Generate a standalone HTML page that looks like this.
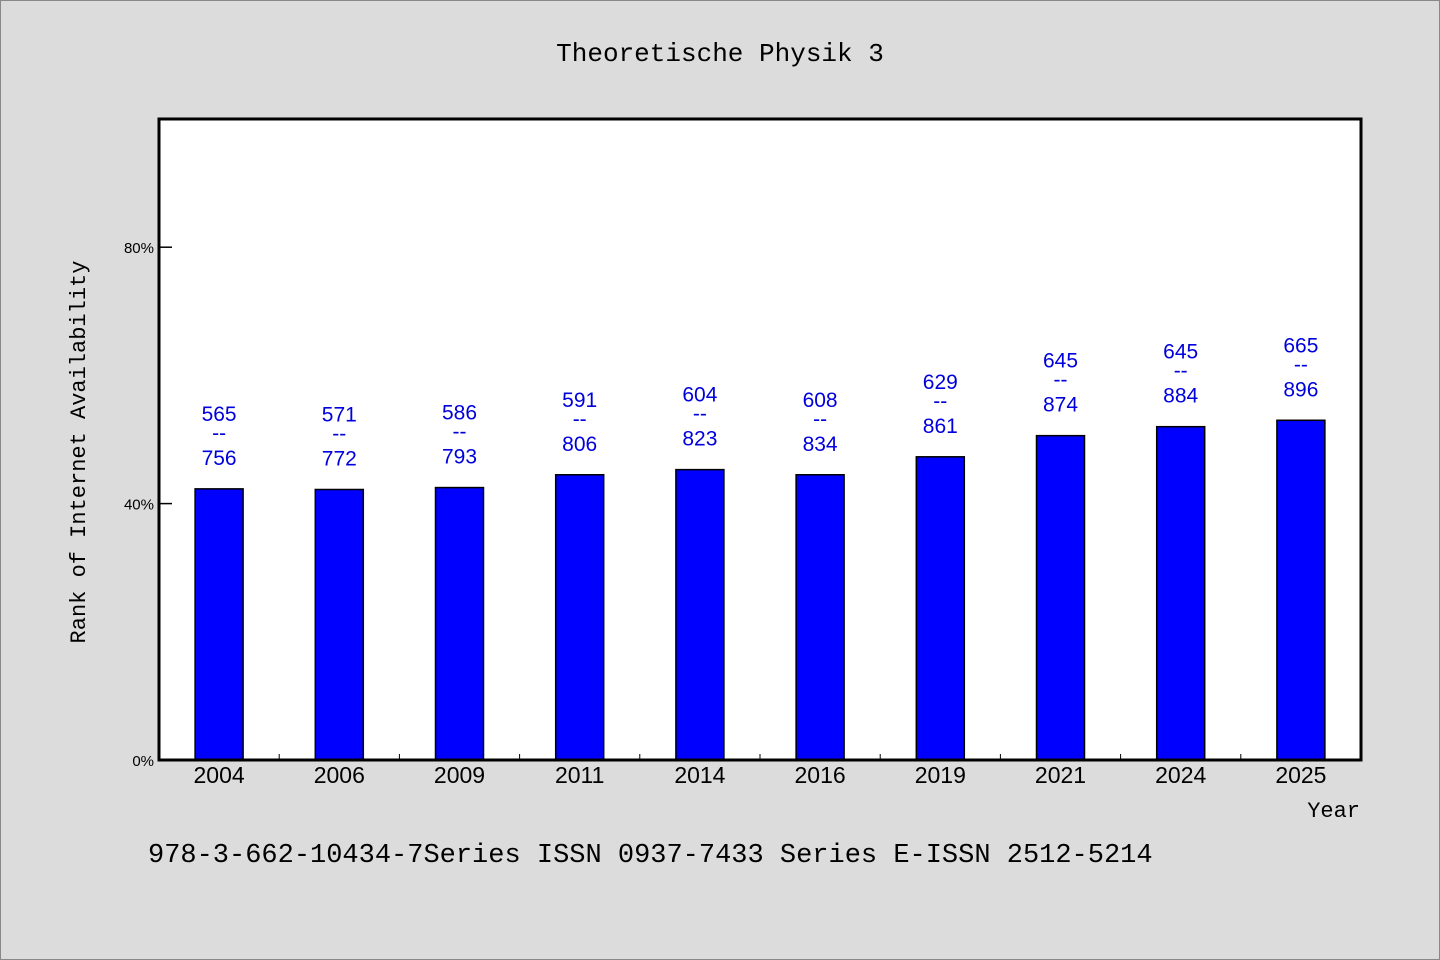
<!DOCTYPE html>
<html><head><meta charset="utf-8"><style>
body{margin:0;background:#dcdcdc;}
svg{display:block;font-family:"WenQuanYi Zen Hei","Liberation Sans",sans-serif;}
</style></head><body>
<svg width="1440" height="960">
<rect x="0.5" y="0.5" width="1439" height="959" fill="#dcdcdc" stroke="#888"/>
<text x="720" y="61" text-anchor="middle" font-size="26" fill="#000" font-family="'Liberation Mono',monospace">Theoretische Physik 3</text>
<rect x="159" y="119" width="1202" height="641" fill="#fff"/>
<g id="ticks"></g>
<g id="bars"></g>
<g id="labels"></g>
<path d="M159,119 H1361 V760 H159 Z" fill="none" stroke="#000" stroke-width="3"/>
<text transform="translate(85,452) rotate(-90)" text-anchor="middle" font-size="22" font-family="'Liberation Mono',monospace">Rank of Internet Availability</text>
<text x="1360" y="817" text-anchor="end" font-size="22" font-family="'Liberation Mono',monospace">Year</text>
<text x="148" y="862" font-size="27" font-family="'Liberation Mono',monospace">978-3-662-10434-7Series ISSN 0937-7433 Series E-ISSN 2512-5214</text>
</svg>
<script>
const categories=["2004","2006","2009","2011","2014","2016","2019","2021","2024","2025"];
const values=[42.3,42.2,42.5,44.5,45.3,44.5,47.3,50.6,52.0,53.0];
const topLabels=["565","571","586","591","604","608","629","645","645","665"];
const bottomLabels=["756","772","793","806","823","834","861","874","884","896"];
const yTicks=[0,40,80];
const NS="http://www.w3.org/2000/svg";
const x0=159,x1=1361,yb=760,yt=119,yMax=100;
const bw=(x1-x0)/categories.length;
const xs=i=>x0+bw*(i+0.5);
const ys=v=>yb-(v/yMax)*(yb-yt);
function mk(tag,attrs,parent,txt){const e=document.createElementNS(NS,tag);for(const k in attrs)e.setAttribute(k,attrs[k]);if(txt!==undefined)e.textContent=txt;document.getElementById(parent).appendChild(e);return e;}
yTicks.forEach(t=>{
 const l=mk('line',{x1:x0,x2:x0+13,y1:ys(t),y2:ys(t),stroke:'#000','stroke-width':1.5},'ticks');
 
 
 const tx=mk('text',{x:x0-5,y:ys(t)+6,'text-anchor':'end','font-size':15},'ticks',t+'%');
 
 
});
categories.forEach((c,i)=>{
 if(i>0){const l=mk('line',{x1:x0+bw*i,x2:x0+bw*i,y1:yb,y2:yb-6,stroke:'#000','stroke-width':1},'ticks');
 
 }
 const y=ys(values[i]);
 const r=mk('rect',{x:xs(i)-24,y:y,width:48,height:yb-y,fill:'#0000ff',stroke:'#000','stroke-width':1.5},'bars');
 
 
 const xl=mk('text',{x:xs(i),y:yb+23,'text-anchor':'middle','font-size':23},'labels',c);
 
 
 const a=mk('text',{x:xs(i),y:y-68,'text-anchor':'middle','font-size':21,fill:'#0000dd'},'labels',topLabels[i]);
 
 
 const d=mk('text',{x:xs(i),y:y-49,'text-anchor':'middle','font-size':21,fill:'#0000dd'},'labels','--');
 
 
 const b=mk('text',{x:xs(i),y:y-24,'text-anchor':'middle','font-size':21,fill:'#0000dd'},'labels',bottomLabels[i]);
 
 
});
</script>
</body></html>
